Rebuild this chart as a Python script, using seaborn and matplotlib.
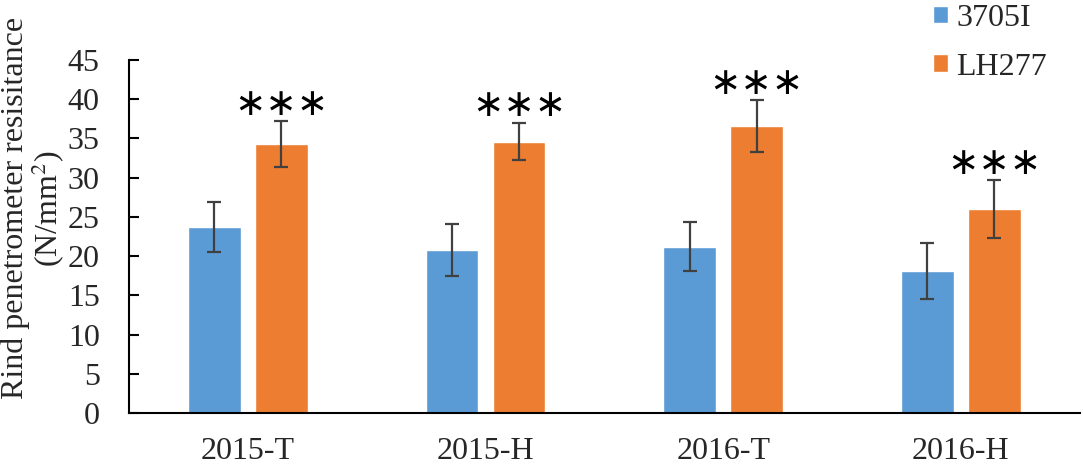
import pandas as pd
import numpy as np
import matplotlib
matplotlib.use('Agg')
import matplotlib.pyplot as plt
import seaborn as sns

# ── Data ──────────────────────────────────────
groups = ['2015-T', '2015-H', '2016-T', '2016-H']
varieties = ['3705I', 'LH277']
mean_3705i = [23.7, 20.8, 21.2, 18.1]
sd_3705i = [3.2, 3.35, 3.15, 3.55]
mean_lh277 = [34.3, 34.6, 36.6, 26.0]
sd_lh277 = [2.9, 2.4, 3.3, 3.7]
stars = ['***', '***', '***', '***']

df = pd.DataFrame({
    'Group': groups * 2,
    'Variety': [varieties[0]] * 4 + [varieties[1]] * 4,
    'Mean': mean_3705i + mean_lh277,
    'SD': sd_3705i + sd_lh277,
})

# ── Style ─────────────────────────────────────
sns.set_style('white')
plt.rcParams['font.family'] = ['Liberation Serif', 'DejaVu Serif']
plt.rcParams['mathtext.fontset'] = 'stix'

FS = 23
colors = ['#5B9BD5', '#ED7D31']

fig = plt.figure(figsize=(10.84, 4.66), dpi=100)
ax = fig.add_axes([0.119, 0.1137, 0.877, 0.7575])

sns.barplot(
    data=df, x='Group', y='Mean', hue='Variety',
    palette=colors, saturation=1,
    width=0.564, gap=0.21, errorbar=None, ax=ax
)

# error bars + significance marks
for cont, sds in zip(ax.containers, [sd_3705i, sd_lh277]):
    xs = [b.get_x() + b.get_width() / 2 for b in cont]
    ys = [b.get_height() for b in cont]
    ax.errorbar(xs, ys, yerr=sds, fmt='none',
                ecolor='#404040', elinewidth=1.6,
                capsize=5, capthick=1.6)

orange = ax.containers[1]
for b, sd, s in zip(orange, sd_lh277, stars):
    ax.text(b.get_x() + b.get_width() / 2,
            b.get_height() + sd + 2.1,
            '\u2217\u2217\u2217', ha='center', va='center',
            fontsize=27, family='DejaVu Sans', color='black')

# ── Axes ──────────────────────────────────────
ax.set_ylim(0, 45)
ax.set_xlim(-0.5, 3.5)
ax.set_yticks(np.arange(0, 46, 5))
ax.set_xticks(range(len(groups)))
ax.set_xticklabels(groups)
ax.set_xticks(np.arange(-0.5, 3.6, 1), minor=True)
ax.tick_params(axis='x', which='major', length=0,
               labelsize=FS, pad=17)
ax.tick_params(axis='x', which='minor', direction='in',
               length=7, width=1.5, color='black')
ax.tick_params(axis='y', direction='in', length=7,
               width=1.5, color='black', labelsize=FS, pad=21)
ax.tick_params(left=True, bottom=True)

for side in ['top', 'right']:
    ax.spines[side].set_visible(False)
for side in ['left', 'bottom']:
    ax.spines[side].set_color('black')
    ax.spines[side].set_linewidth(1.5)

ax.set_xlabel('')
ax.set_ylabel('Rind penetrometer resisitance\n(N/mm$^2$)',
              fontsize=FS, linespacing=1.0,
              va='center', ha='center')
ax.yaxis.set_label_coords(-0.1, 0.58)

handles, labels = ax.get_legend_handles_labels()
ax.legend(handles, labels, loc='upper left',
          bbox_to_anchor=(0.861, 0.992),
          bbox_transform=fig.transFigure,
          frameon=False, fontsize=FS, borderpad=0,
          borderaxespad=0,
          handlelength=0.47, handleheight=0.47,
          handletextpad=0.25, labelspacing=0.62)

plt.savefig('out.png', dpi=100)
